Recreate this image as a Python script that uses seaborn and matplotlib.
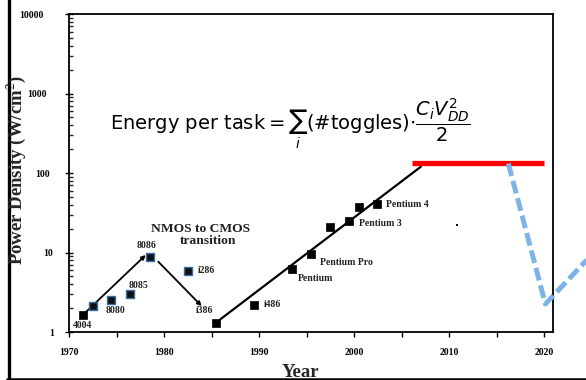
import matplotlib
matplotlib.use("Agg")
import matplotlib.pyplot as plt
from matplotlib.lines import Line2D
from matplotlib.transforms import ScaledTranslation
from matplotlib.ticker import LogLocator, NullFormatter, FixedLocator
import seaborn as sns
import pandas as pd

# Processor power density by year of introduction
early_years = [1972.5, 1974.45, 1976.4, 1978.5, 1982.5]
early_power = [2.12, 2.50, 2.98, 8.8, 5.9]
late_years = [1971.45, 1985.45, 1989.45, 1993.4, 1995.5, 1997.45, 1999.4, 2000.45, 2002.4]
late_power = [1.65, 1.29, 2.19, 6.2, 9.6, 20.7, 24.9, 37.7, 40.7]
stray_year = [2010.8]
stray_power = [22.0]

# chip names and where they are written
chip_names = ["4004", "8080", "8085", "8086", "i286", "i386", "i486",
              "Pentium", "Pentium Pro", "Pentium 3", "Pentium 4"]
chip_label_x = [1971.47, 1974.94, 1977.36, 1978.1, 1984.41, 1984.27, 1991.42,
                1995.97, 1999.2, 2002.78, 2005.62]
chip_label_y = [1.22, 1.85, 3.79, 12.2, 5.9, 1.84, 2.25, 4.74, 7.44, 23.3, 40.4]

# CMOS trend line, power wall and projected decline
trend_years = [1985.9, 2007.0]
trend_power = [1.44, 120.0]
wall_years = [2006.1, 2020.0]
wall_power = [132.0, 132.0]
drop_years = [2016.2, 2020.1, 2024.45]
drop_power = [132.0, 2.25, 8.05]

# NMOS-era arrows (start, end)
arrow_up = [(1971.26, 1.56), (1978.07, 9.3)]
arrow_down = [(1979.39, 7.66), (1983.95, 2.12)]

x_ticks = [1970, 1980, 1990, 2000, 2010, 2020]
y_ticks = [1, 10, 100, 1000, 10000]

sns.set_theme(style="ticks")
plt.rcParams["font.family"] = ["Liberation Serif", "DejaVu Serif"]

fig = plt.figure(figsize=(5.86, 3.80), dpi=100)
ax = fig.add_axes([69 / 586, 1 - 332 / 380, 484 / 586, 318 / 380])

ax.set_yscale("log")
ax.set_xlim(1970, 2020.9)
ax.set_ylim(1, 10000)

sns.lineplot(x=trend_years, y=trend_power, ax=ax, color="black", lw=1.6)
sns.lineplot(x=wall_years, y=wall_power, ax=ax, color="#ff0000", lw=3.8,
             solid_capstyle="butt")
drop = pd.DataFrame({"year": drop_years, "power": drop_power})
ax.plot(drop["year"], drop["power"], color="#7db4e8", lw=3.6,
        dashes=(2.6, 1.0), clip_on=False, zorder=4)

sns.scatterplot(x=late_years, y=late_power, ax=ax, marker="s", s=28,
                color="black", edgecolor="black", linewidth=0.5, zorder=5)
sns.scatterplot(x=early_years, y=early_power, ax=ax, marker="s", s=28,
                color="#111111", edgecolor="#3a6ea5", linewidth=1.0, zorder=5)
sns.scatterplot(x=stray_year, y=stray_power, ax=ax, marker="s", s=3,
                color="black", linewidth=0, zorder=5)

for (x0, y0), (x1, y1) in (arrow_up, arrow_down):
    ax.annotate("", xy=(x1, y1), xytext=(x0, y0),
                arrowprops=dict(arrowstyle="-|>", color="black", lw=1.3,
                                mutation_scale=6, shrinkA=0, shrinkB=0))

for name, lx, ly in zip(chip_names, chip_label_x, chip_label_y):
    ax.text(lx, ly, name, fontsize=7, fontweight="bold", color="#222222",
            ha="center", va="center")

ax.text(1983.88, 19.8, "NMOS to CMOS", fontsize=9.7, fontweight="bold",
        color="#222222", ha="center", va="center")
ax.text(1984.65, 13.95, "transition", fontsize=9.7, fontweight="bold",
        color="#222222", ha="center", va="center")

ax.text(0.085, 0.655,
        r"Energy per task$=\sum_{i}$(#toggles)$\cdot\dfrac{C_i V_{DD}^{2}}{2}$",
        transform=ax.transAxes, fontsize=14, family="DejaVu Sans",
        fontweight="normal", color="black", ha="left", va="center",
        math_fontfamily="dejavusans")

# axes styling
for side in ("top", "right", "left", "bottom"):
    ax.spines[side].set_linewidth(1.3)
    ax.spines[side].set_color("black")

ax.xaxis.set_major_locator(FixedLocator(x_ticks))
ax.xaxis.set_minor_locator(FixedLocator([1975, 1985, 1995, 2005, 2015]))
ax.set_xticklabels([str(t) for t in x_ticks])
ax.yaxis.set_major_locator(FixedLocator(y_ticks))
ax.yaxis.set_minor_locator(LogLocator(base=10, subs=range(2, 10)))
ax.yaxis.set_minor_formatter(NullFormatter())
ax.set_yticklabels([str(t) for t in y_ticks])

ax.tick_params(axis="x", which="both", direction="out", length=3.5, width=1,
               pad=8, labelsize=7, colors="black")
ax.tick_params(axis="y", which="major", direction="inout", length=5.5, width=1,
               pad=16, labelsize=7, colors="black")
ax.tick_params(axis="y", which="minor", direction="in", length=2.8, width=1)
for lab in ax.get_xticklabels() + ax.get_yticklabels():
    lab.set_fontweight("bold")

# nudge the y labels sideways (pixels at 100 dpi)
y_label_shift = [11, 10, 7, 4, 1]
for lab, dx in zip(ax.get_yticklabels(), y_label_shift):
    lab.set_transform(lab.get_transform()
                      + ScaledTranslation(dx / 100, 0, fig.dpi_scale_trans))

ax.set_xlabel("")
ax.set_ylabel("")
fig.text(16 / 586, 1 - 170 / 380, "Power Density (W/cm$^2$)", rotation=90,
         fontsize=13.5, fontweight="bold", ha="center", va="center",
         math_fontfamily="stix")
fig.text(300 / 586, 1 - 377 / 380, "Year", fontsize=13.5, fontweight="bold",
         ha="center", va="baseline")

# slide frame
fig.add_artist(Line2D([8.5 / 586, 8.5 / 586], [0, 1], color="black", lw=2.4,
                      transform=fig.transFigure))
fig.add_artist(Line2D([7 / 586, 1], [1 - 378.5 / 380, 1 - 378.5 / 380],
                      color="black", lw=1.8, transform=fig.transFigure,
                      zorder=10))

fig.savefig("out.png", dpi=100)
